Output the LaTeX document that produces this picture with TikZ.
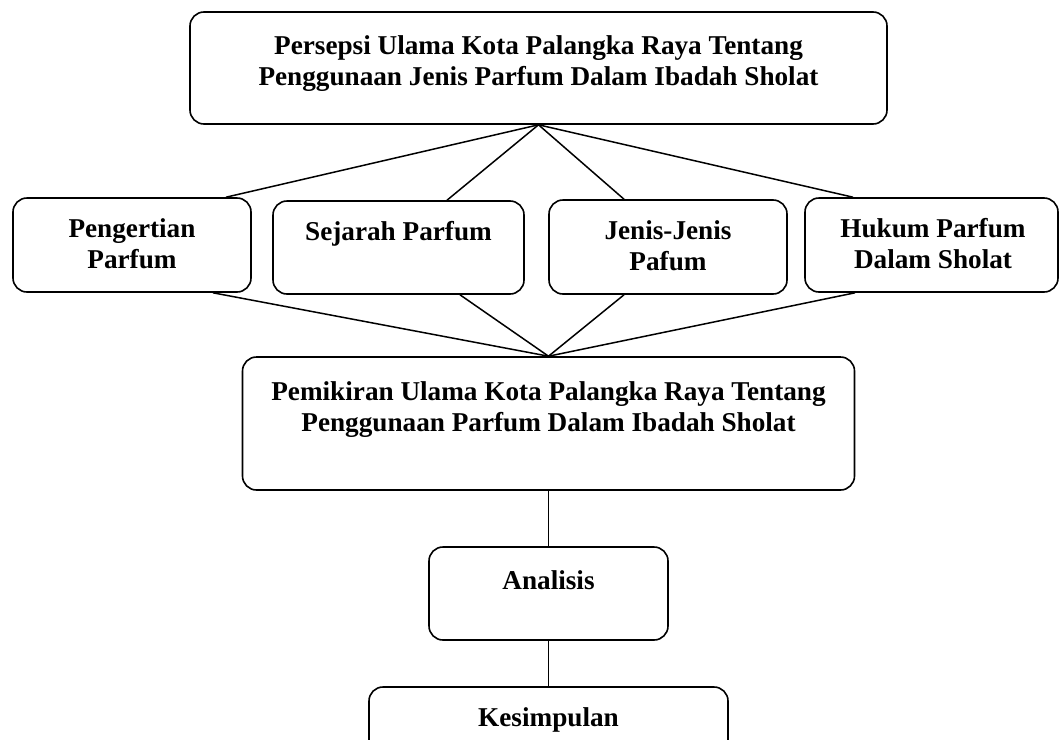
\documentclass[tikz,border=0pt]{standalone}
\usepackage{fontspec}
\setmainfont{Liberation Serif}
\usetikzlibrary{calc}
\newcommand{\twolines}[1]{\begin{tabular}[t]{@{}c@{}}#1\end{tabular}}
\tikzset{
  box/.style={draw, rounded corners=14pt, line width=1.6pt, inner sep=0pt},
  txt/.style={anchor=base, inner sep=0pt, font=\fontsize{27.2}{31}\selectfont\bfseries},
  conn/.style={line width=1.5pt}
}
\begin{document}
\begin{tikzpicture}[x=1pt,y=-1pt]
\useasboundingbox (0,0) rectangle (1059,739);
\clip (0,0) rectangle (1059,739);
% boxes
\node[box, minimum width=697pt, minimum height=112pt] (top) at (538.5,68) {};
\node[box, minimum width=238pt, minimum height=94pt] (pen) at (132,245) {};
\node[box, minimum width=251pt, minimum height=93pt] (sej) at (398.5,247.5) {};
\node[box, minimum width=238pt, minimum height=94pt] (jen) at (668,247) {};
\node[box, minimum width=253pt, minimum height=94pt] (huk) at (931.5,245) {};
\node[box, minimum width=612pt, minimum height=133pt] (pem) at (548.5,423.5) {};
\node[box, minimum width=239pt, minimum height=93pt] (ana) at (548.5,593.5) {};
\node[box, minimum width=359pt, minimum height=113pt] (kes) at (548.5,743.5) {};
% texts
\node[txt] (topT) at (538.5,54) {\twolines{Persepsi Ulama Kota Palangka Raya Tentang\\Penggunaan Jenis Parfum Dalam Ibadah Sholat}};
\node[txt] (penT) at (132,237) {\twolines{Pengertian\\Parfum}};
\node[txt] (sejT) at (398.5,240) {Sejarah Parfum};
\node[txt] (jenT) at (668,239) {\twolines{Jenis-Jenis\\Pafum}};
\node[txt] (hukT) at (933,237) {\twolines{Hukum Parfum\\Dalam Sholat}};
\node[txt] (pemT) at (548.5,400) {\twolines{Pemikiran Ulama Kota Palangka Raya Tentang\\Penggunaan Parfum Dalam Ibadah Sholat}};
\node[txt] (anaT) at (548.5,589) {Analisis};
\node[txt] (kesT) at (548.5,726) {Kesimpulan};
% connectors from top
\draw[conn] (top.south) -- ([xshift=94pt]pen.north);
\draw[conn] (top.south) -- ([xshift=48.5pt]sej.north);
\draw[conn] (top.south) -- ([xshift=-44pt]jen.north);
\draw[conn] (top.south) -- ([xshift=-78.5pt]huk.north);
% connectors to pem
\draw[conn] ([xshift=81pt]pen.south) -- (pem.north);
\draw[conn] ([xshift=61.5pt]sej.south) -- (pem.north);
\draw[conn] ([xshift=-44pt]jen.south) -- (pem.north);
\draw[conn] ([xshift=-76.5pt]huk.south) -- (pem.north);
% vertical chain
\draw[conn] (pem.south) -- (ana.north);
\draw[conn] (ana.south) -- (kes.north);
\end{tikzpicture}
\end{document}
